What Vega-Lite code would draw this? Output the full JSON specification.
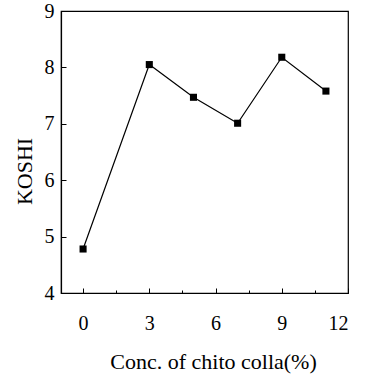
{
  "$schema": "https://vega.github.io/schema/vega-lite/v6.json",
  "width": 287,
  "height": 282,
  "autosize": {"type": "none"},
  "padding": {"left": 61, "top": 11, "right": 17, "bottom": 90},
  "background": "white",
  "config": {
    "view": {"stroke": "black", "strokeWidth": 1.2},
    "font": "Liberation Serif",
    "axis": {
      "domainColor": "black",
      "domainWidth": 1.2,
      "tickColor": "black",
      "labelColor": "black",
      "titleColor": "black",
      "labelFont": "Liberation Serif",
      "titleFont": "Liberation Serif",
      "labelFontSize": 20,
      "titleFontSize": 22,
      "titleFontWeight": "normal",
      "grid": false
    }
  },
  "data": {
    "values": [
      {"conc": 0, "koshi": 4.78},
      {"conc": 3, "koshi": 8.05},
      {"conc": 5, "koshi": 7.47},
      {"conc": 7, "koshi": 7.01},
      {"conc": 9, "koshi": 8.18},
      {"conc": 11, "koshi": 7.58}
    ]
  },
  "encoding": {
    "x": {
      "field": "conc",
      "type": "quantitative",
      "scale": {"domain": [-1, 12], "nice": false, "zero": false},
      "axis": {
        "title": "Conc. of chito colla(%)",
        "values": [0, 1.5, 3, 4.5, 6, 7.5, 9, 10.5, 12],
        "labelExpr": "datum.value % 3 === 0 ? datum.label : ''",
        "tickSize": {"condition": {"test": "datum.value % 3 === 0", "value": -5}, "value": -3},
        "labelPadding": 25,
        "titlePadding": 18,
        "titleX": 152
      }
    },
    "y": {
      "field": "koshi",
      "type": "quantitative",
      "scale": {"domain": [4, 9], "nice": false, "zero": false},
      "axis": {
        "title": "KOSHI",
        "format": "d",
        "values": [4, 4.5, 5, 5.5, 6, 6.5, 7, 7.5, 8, 8.5, 9],
        "labelExpr": "datum.value % 1 === 0 ? datum.label : ''",
        "tickSize": {"condition": {"test": "datum.value % 1 === 0", "value": -5}, "value": -3},
        "labelPadding": 12,
        "titlePadding": 8,
        "titleY": 160
      }
    }
  },
  "layer": [
    {"mark": {"type": "line", "color": "black", "strokeWidth": 1.2}},
    {"mark": {"type": "square", "color": "black", "filled": true, "opacity": 1, "size": 50}}
  ]
}
